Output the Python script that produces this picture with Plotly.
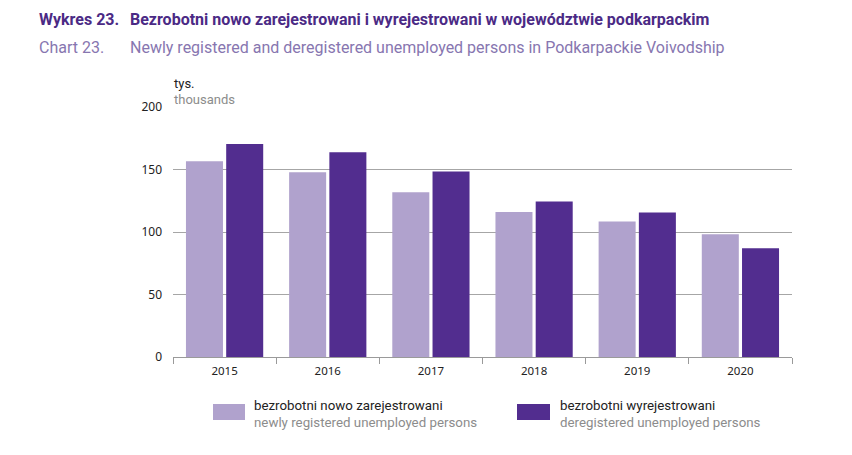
import plotly.graph_objects as go

years = ["2015", "2016", "2017", "2018", "2019", "2020"]
newly_registered = [156.7, 147.9, 131.9, 116.1, 108.4, 98.2]
deregistered = [170.5, 163.9, 148.4, 124.4, 115.6, 87.0]
y_ticks = [0, 50, 100, 150, 200]

name_new_pl = "bezrobotni nowo zarejestrowani"
name_new_en = "newly registered unemployed persons"
name_der_pl = "bezrobotni wyrejestrowani"
name_der_en = "deregistered unemployed persons"

LIGHT = "#b0a2cd"
DARK = "#522d8f"
W, H = 852, 455
ML, MR, MT, MB = 173, 60, 107, 98
PW, PH = W - ML - MR, H - MT - MB


def px(x):
    return (x - ML) / PW


def py(y):
    return (H - MB - y) / PH


fig = go.Figure()
fig.add_bar(x=years, y=newly_registered, marker=dict(color=LIGHT, line_width=0),
            name=name_new_pl, showlegend=False)
fig.add_bar(x=years, y=deregistered, marker=dict(color=DARK, line_width=0),
            name=name_der_pl, showlegend=False)

TXT = "Roboto, 'Noto Sans', sans-serif"
ann = []
ann.append(dict(x=px(37), y=py(20), text="<b>Wykres 23.</b>", font=dict(family=TXT, size=16, color="#4b2a85")))
ann.append(dict(x=px(128), y=py(20), text="<b>Bezrobotni nowo zarejestrowani i wyrejestrowani w województwie podkarpackim</b>",
                font=dict(family=TXT, size=16, color="#4b2a85")))
ann.append(dict(x=px(37), y=py(47), text="Chart 23.", font=dict(family=TXT, size=16, color="#8776b0")))
ann.append(dict(x=px(128), y=py(47), text="Newly registered and deregistered unemployed persons in Podkarpackie Voivodship",
                font=dict(family=TXT, size=16, color="#8776b0")))
ann.append(dict(x=px(172), y=py(84), text="tys.", font=dict(family=TXT, size=13, color="#222222")))
ann.append(dict(x=px(172), y=py(99), text="thousands", font=dict(family=TXT, size=13, color="#8c8c8c")))

# legend
shapes = []
for x0, x1, col, pl, en, tx in [(213, 245, LIGHT, name_new_pl, name_new_en, 252),
                                (517, 550, DARK, name_der_pl, name_der_en, 558)]:
    shapes.append(dict(type="rect", xref="paper", yref="paper", x0=px(x0), x1=px(x1),
                       y0=py(420), y1=py(404), fillcolor=col, line_width=0))
    ann.append(dict(x=px(tx), y=py(405), text=pl, font=dict(family=TXT, size=13.3, color="#222222")))
    ann.append(dict(x=px(tx), y=py(422), text=en, font=dict(family=TXT, size=13.3, color="#8c8c8c")))

for a in ann:
    a.update(xref="paper", yref="paper", xanchor="left", yanchor="middle", showarrow=False)

fig.update_layout(
    width=W, height=H,
    margin=dict(l=ML, r=MR, t=MT, b=MB, pad=0),
    paper_bgcolor="white", plot_bgcolor="white",
    barmode="group", bargap=0.22, bargroupgap=0.08,
    annotations=ann, shapes=shapes,
    showlegend=False,
    xaxis=dict(type="category", showline=True, linecolor="#9a9a9a", linewidth=1,
               ticks="outside", tickson="boundaries", ticklen=6, tickcolor="#9a9a9a",
               ticklabelstandoff=3,
               showgrid=False, tickfont=dict(family="'Noto Sans', sans-serif", size=11.5, color="#222222")),
    yaxis=dict(range=[0, 200], tickvals=y_ticks, showgrid=True, gridcolor="#a6a6a6", gridwidth=1,
               zeroline=False, showline=False, ticks="", ticklabelstandoff=10,
               tickfont=dict(family="'Noto Sans', sans-serif", size=12, color="#222222")),
)

fig.write_html("out.html")
